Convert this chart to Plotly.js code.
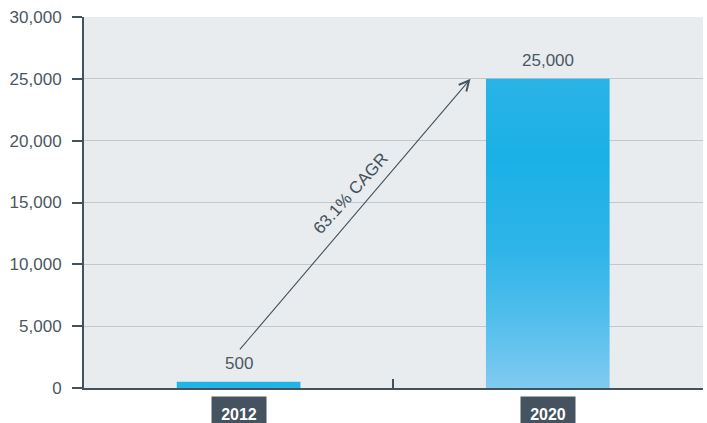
<!DOCTYPE html>
<html><head><meta charset="utf-8">
<script src="https://cdn.plot.ly/plotly-3.0.1.min.js"></script>
<style>html,body{margin:0;padding:0;background:#fff}</style>
</head><body><div id="chart" style="width:707px;height:423px"></div>
<script>
const categories = ['2012', '2020'];
const values = [500, 25000];
const valueLabels = ['500', '25,000'];
const cagrText = '63.1% CAGR';
const yTickVals = [0, 5000, 10000, 15000, 20000, 25000, 30000];
const yTickText = ['0', '5,000', '10,000', '15,000', '20,000', '25,000', '30,000'];

const AXIS = '#44525e';
const TEXT = '#4b5862';
const FONT = 'Liberation Sans, Arial, sans-serif';

const trace = {
  type: 'bar',
  x: categories,
  y: values,
  width: 0.4,
  marker: { color: '#22b3e7', line: { width: 0 } },
  hoverinfo: 'none'
};

const annotations = [];
categories.forEach((c, i) => {
  annotations.push({
    x: i, xref: 'x', y: values[i], yref: 'y',
    yanchor: 'bottom', yshift: 7, showarrow: false,
    text: valueLabels[i],
    font: { family: FONT, size: 17, color: TEXT }
  });
  annotations.push({
    x: i, xref: 'x', y: 0, yref: 'paper',
    yanchor: 'top', yshift: -8, showarrow: false,
    text: '<b>' + c + '</b>',
    width: 54, height: 34, borderpad: 0, valign: 'middle',
    bgcolor: '#44535f',
    font: { family: FONT, size: 16, color: '#ffffff' }
  });
});
// CAGR arrow from the 2012 bar toward the 2020 bar
annotations.push({
  x: 0.75, xref: 'x', y: values[1], yref: 'y',
  ax: 0, axref: 'x', ay: 3000, ayref: 'y',
  text: '', showarrow: true, arrowhead: 5, arrowsize: 1.8,
  arrowwidth: 1.1, arrowcolor: AXIS, standoff: 0
});
annotations.push({
  x: 0.363, xref: 'x', y: 15700, yref: 'y',
  text: cagrText, showarrow: false, textangle: -48,
  font: { family: FONT, size: 17, color: AXIS }
});

const layout = {
  width: 707, height: 423,
  margin: { l: 84, r: 4, t: 17, b: 35 },
  paper_bgcolor: '#ffffff',
  plot_bgcolor: '#e9ecef',
  showlegend: false,
  xaxis: {
    type: 'category',
    range: [-0.5, 1.502],
    showgrid: false,
    showline: true, linecolor: AXIS, linewidth: 2,
    ticks: 'inside', tickson: 'boundaries', ticklen: 9, tickwidth: 2, tickcolor: AXIS,
    showticklabels: false,
    zeroline: false, fixedrange: true
  },
  yaxis: {
    range: [0, 30000],
    tickvals: yTickVals, ticktext: yTickText,
    showgrid: true, gridcolor: '#c3c8cc', gridwidth: 1.3,
    showline: true, linecolor: AXIS, linewidth: 2,
    ticks: 'outside', ticklen: 10, tickwidth: 2, tickcolor: AXIS,
    ticklabelstandoff: 7,
    tickfont: { family: FONT, size: 17, color: TEXT },
    zeroline: false, fixedrange: true
  },
  annotations: annotations
};

Plotly.newPlot('chart', [trace], layout, { staticPlot: true, displayModeBar: false }).then(gd => {
  const ns = 'http://www.w3.org/2000/svg';
  const svg = gd.querySelector('svg.main-svg');
  let defs = svg.querySelector('defs');
  if (!defs) { defs = document.createElementNS(ns, 'defs'); svg.insertBefore(defs, svg.firstChild); }
  const lg = document.createElementNS(ns, 'linearGradient');
  lg.setAttribute('id', 'barGrad');
  lg.setAttribute('x1', '0'); lg.setAttribute('y1', '0');
  lg.setAttribute('x2', '0'); lg.setAttribute('y2', '1');
  [[0, '#2ab3e7'], [0.25, '#1bb1e6'], [0.55, '#2eb4e8'], [0.75, '#4dbdec'], [1, '#80caf1']].forEach(([o, c]) => {
    const s = document.createElementNS(ns, 'stop');
    s.setAttribute('offset', o);
    s.setAttribute('stop-color', c);
    lg.appendChild(s);
  });
  defs.appendChild(lg);
  const paths = gd.querySelectorAll('.barlayer .point path');
  if (paths[1]) paths[1].style.fill = 'url(#barGrad)';
});
</script>
</body></html>
